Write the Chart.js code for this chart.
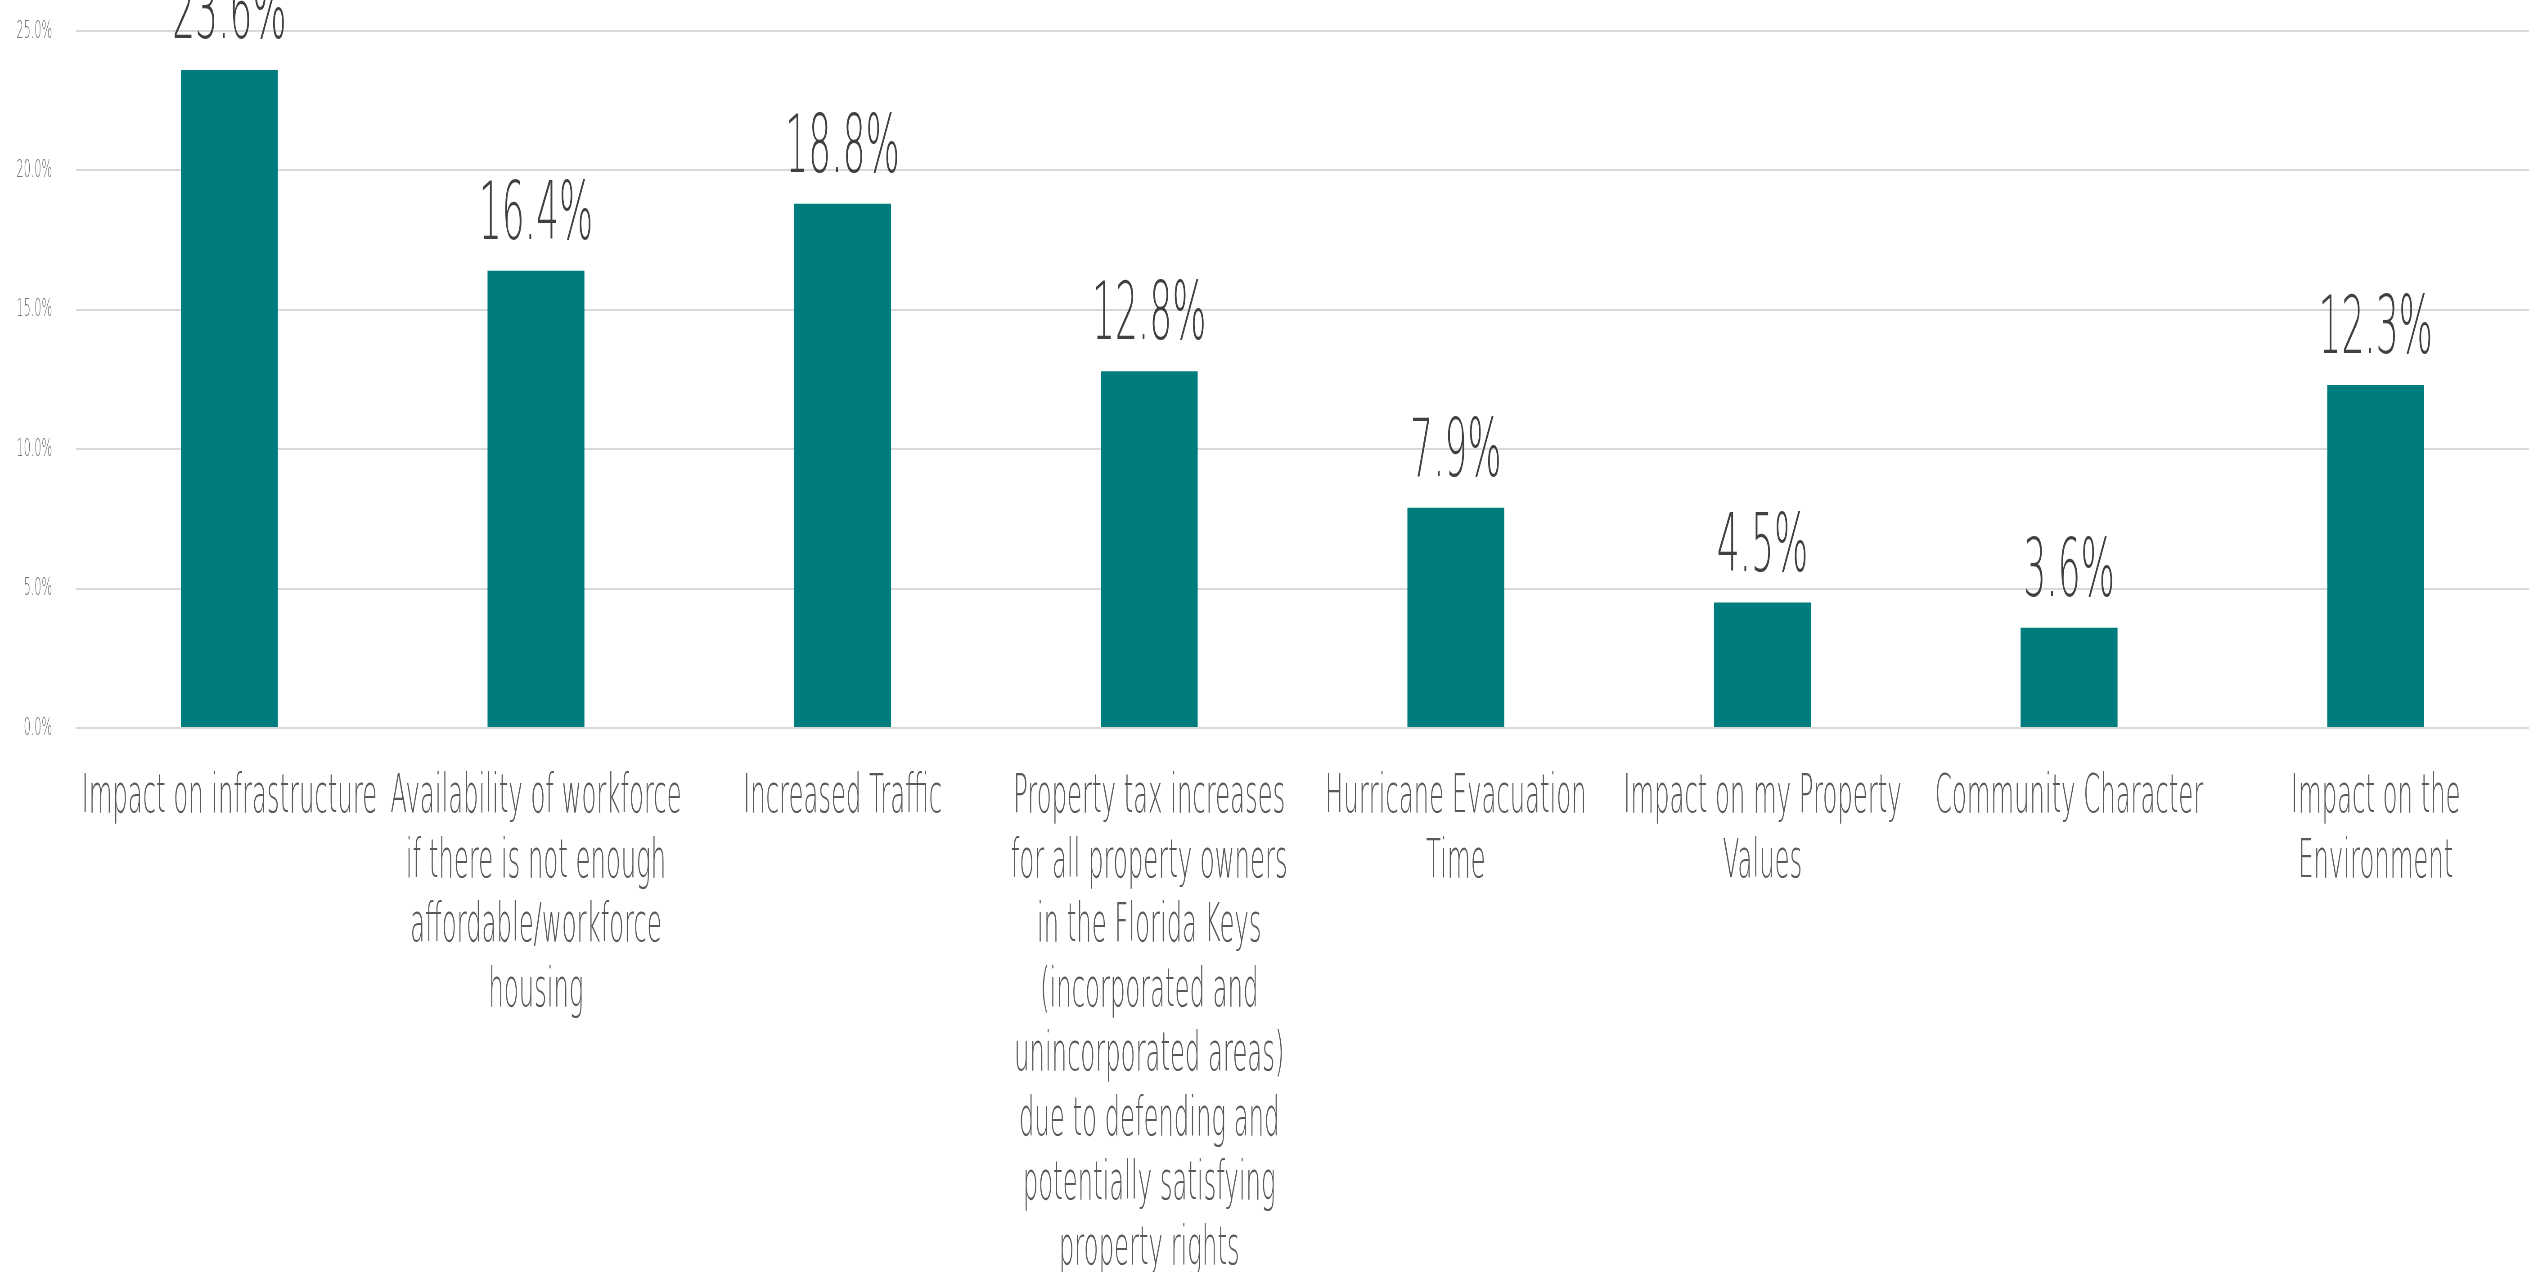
<!DOCTYPE html>
<html>
<head>
<meta charset="utf-8">
<script src="https://cdn.jsdelivr.net/npm/chart.js@4.4.1/dist/chart.umd.min.js"></script>
<style>
  html, body { margin: 0; padding: 0; background: #ffffff; overflow: hidden; }
</style>
</head>
<body>
<!-- drawn wide, shown squeezed horizontally for the condensed lettering -->
<canvas id="concernsChart" width="5620" height="1272" style="display:block;width:2529px;height:1272px"></canvas>
<script>
const categories = [
  ["Impact on infrastructure"],
  ["Availability of workforce", "if there is not enough", "affordable/workforce", "housing"],
  ["Increased Traffic"],
  ["Property tax increases", "for all property owners", "in the Florida Keys", "(incorporated and", "unincorporated areas)", "due to defending and", "potentially satisfying", "property rights"],
  ["Hurricane Evacuation", "Time"],
  ["Impact on my Property", "Values"],
  ["Community Character"],
  ["Impact on the", "Environment"],
];

const shares = [23.6, 16.4, 18.8, 12.8, 7.9, 4.5, 3.6, 12.3];

const yTickValues = [0, 5, 10, 15, 20, 25];

const FONT = "'DejaVu Sans', sans-serif";
const WEIGHT = 200;

// value labels above each bar
const valueLabels = {
  id: "valueLabels",
  afterDatasetsDraw(chart) {
    const ctx = chart.ctx;
    const meta = chart.getDatasetMeta(0);
    ctx.save();
    ctx.font = WEIGHT + " 80px " + FONT;
    ctx.fillStyle = "#404040";
    ctx.textAlign = "center";
    ctx.textBaseline = "alphabetic";
    meta.data.forEach((bar, i) => {
      const v = chart.data.datasets[0].data[i];
      ctx.fillText(v.toFixed(1) + "%", bar.x, bar.y - 32);
    });
    ctx.restore();
  },
};

const ctx = document.getElementById("concernsChart").getContext("2d");

new Chart(ctx, {
  type: "bar",
  data: {
    labels: categories,
    datasets: [
      {
        data: shares,
        backgroundColor: "#007b7e",
        barPercentage: 0.316,
        categoryPercentage: 1,
      },
    ],
  },
  options: {
    responsive: false,
    devicePixelRatio: 1,
    animation: false,
    layout: {
      padding: { top: 31, left: 0, right: 0, bottom: 0 },
    },
    scales: {
      x: {
        grid: { display: false, drawTicks: false },
        border: { display: false },
        ticks: {
          autoSkip: false,
          maxRotation: 0,
          minRotation: 0,
          padding: 38,
          color: "#595959",
          font: { family: FONT, weight: WEIGHT, size: 54, lineHeight: 1.194 },
        },
        afterFit(scale) {
          scale.height = 544;
        },
      },
      y: {
        min: 0,
        max: 25,
        grid: { color: "#d9d9d9", lineWidth: 2, drawTicks: false },
        border: { display: false },
        afterBuildTicks(scale) {
          scale.ticks = yTickValues.map((v) => ({ value: v }));
        },
        ticks: {
          padding: 53,
          color: "#737373",
          font: { family: FONT, weight: WEIGHT, size: 25 },
          callback: (v) => v.toFixed(1) + "%",
        },
        afterFit(scale) {
          scale.width = 169;
          // top gridline sits right under the layout padding
          scale.paddingTop = 0;
          scale.paddingBottom = 0;
        },
      },
    },
    plugins: {
      legend: { display: false },
      tooltip: { enabled: false },
    },
  },
  plugins: [valueLabels],
});
</script>
</body>
</html>
